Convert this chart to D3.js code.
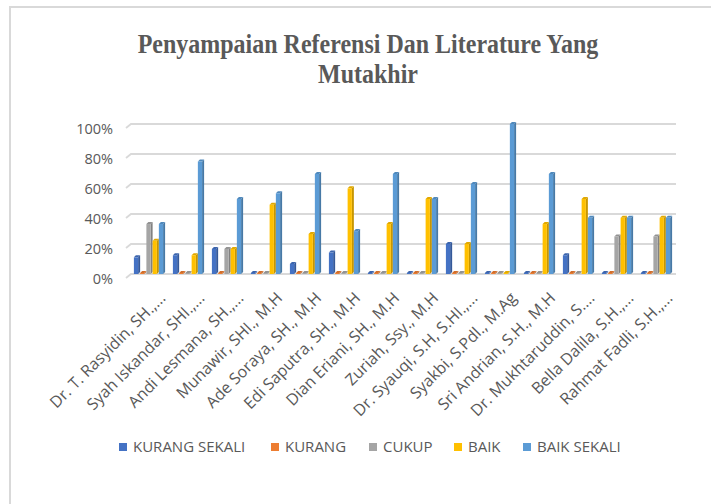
<!DOCTYPE html>
<html>
<head>
<meta charset="utf-8">
<script src="https://cdn.jsdelivr.net/npm/d3@7"></script>
<style>
  body { margin: 0; background: #fff; }
  svg { display: block; }
</style>
</head>
<body>
<svg width="711" height="504"></svg>
<script>
// data (percent)
var names = [
  "Dr. T. Rasyidin, SH.,...", "Syah Iskandar, SHI.,...", "Andi Lesmana, SH.,...",
  "Munawir, SHI., M.H", "Ade Soraya, SH., M.H", "Edi Saputra, SH., M.H",
  "Dian Eriani, SH., M.H", "Zuriah, Ssy., M.H", "Dr. Syauqi, S.H, S.HI.,...",
  "Syakbi, S.Pdl., M.Ag", "Sri Andrian, S.H., M.H", "Dr. Mukhtaruddin, S....",
  "Bella Dalila, S.H.,...", "Rahmat Fadli, S.H.,..."
];
var seriesNames = ["KURANG SEKALI", "KURANG", "CUKUP", "BAIK", "BAIK SEKALI"];
var kurangSekali = [11.1, 12.5, 16.7, 0, 6.7, 14.3, 0, 0, 20, 0, 0, 12.5, 0, 0];
var kurang       = [0, 0, 0, 0, 0, 0, 0, 0, 0, 0, 0, 0, 0, 0];
var cukup        = [33.3, 0, 16.7, 0, 0, 0, 0, 0, 0, 0, 0, 0, 25, 25];
var baik         = [22.2, 12.5, 16.7, 46.2, 26.7, 57.1, 33.3, 50, 20, 0, 33.3, 50, 37.5, 37.5];
var baikSekali   = [33.3, 75, 50, 53.8, 66.7, 28.6, 66.7, 50, 60, 100, 66.7, 37.5, 37.5, 37.5];
var yTicks = [0, 20, 40, 60, 80, 100];

var colors = ["#4472C4", "#ED7D31", "#A5A5A5", "#FFC000", "#5B9BD5"];
var allSeries = [kurangSekali, kurang, cukup, baik, baikSekali];

var svg = d3.select('svg');

// outer frame (only top and left visible)
svg.append('path')
  .attr('d', 'M10,504 L10,7 L711,7')
  .attr('fill', 'none')
  .attr('stroke', '#d9d9d9')
  .attr('stroke-width', 2);

// title
var title = svg.append('text')
  .attr('text-anchor', 'middle')
  .attr('font-family', '"Liberation Serif", "Times New Roman", serif')
  .attr('font-weight', 'bold')
  .attr('font-size', 24)
  .attr('fill', '#595959')
  .attr('transform', 'translate(368,0) scale(1,1.1)');
title.append('tspan').attr('x', 0).attr('y', 48).text('Penyampaian Referensi Dan Literature Yang');
title.append('tspan').attr('x', 0).attr('y', 75.5).text('Mutakhir');

var x0 = d3.scaleBand()
  .domain(d3.range(names.length))
  .range([130, 676])
  .paddingInner(0.2)
  .paddingOuter(0.1);

var x1 = d3.scaleBand()
  .domain(d3.range(seriesNames.length))
  .range([0, x0.bandwidth()]);

var y = d3.scaleLinear()
  .domain([0, 100])
  .range([274, 124]);

// gridlines with a small slanted wall start
var grid = svg.append('g');
yTicks.forEach(function(t) {
  grid.append('path')
    .attr('d', 'M126,' + (y(t) + 4) + ' L131,' + y(t) + ' L676,' + y(t))
    .attr('fill', 'none')
    .attr('stroke', '#d9d9d9')
    .attr('stroke-width', 1.8);
});

// y labels
svg.append('g').selectAll('text')
  .data(yTicks)
  .enter()
  .append('text')
  .attr('x', 113)
  .attr('y', function(d) { return y(d) + 10; })
  .attr('text-anchor', 'end')
  .attr('font-family', '"Open Sans", "Noto Sans", sans-serif')
  .attr('font-size', 14.5)
  .attr('fill', '#595959')
  .text(function(d) { return d + '%'; });

// 3D-ish bars
var depth = 2;
var bars = svg.append('g');
names.forEach(function(n, i) {
  allSeries.forEach(function(vals, s) {
    var v = vals[i];
    var bx = x0(i) + x1(s);
    var bw = x1.bandwidth() - depth;
    var top = v > 0 ? y(v) : y(0) - 1;
    var base = y(0);
    var c = d3.color(colors[s]);
    var g = bars.append('g');
    // side face
    g.append('path')
      .attr('d', 'M' + (bx + bw) + ',' + top + ' L' + (bx + bw + depth) + ',' + (top - depth) +
        ' L' + (bx + bw + depth) + ',' + (base - depth) + ' L' + (bx + bw) + ',' + base + 'Z')
      .attr('fill', c.darker(0.7));
    // top face
    g.append('path')
      .attr('d', 'M' + bx + ',' + top + ' L' + (bx + depth) + ',' + (top - depth) +
        ' L' + (bx + bw + depth) + ',' + (top - depth) + ' L' + (bx + bw) + ',' + top + 'Z')
      .attr('fill', c.darker(0.35));
    // front face
    g.append('rect')
      .attr('x', bx)
      .attr('y', top)
      .attr('width', bw)
      .attr('height', base - top)
      .attr('fill', colors[s]);
  });
});

// category labels, rotated
svg.append('g').selectAll('text')
  .data(names)
  .enter()
  .append('text')
  .attr('transform', function(d, i) {
    return 'translate(' + (x0(i) + x0.bandwidth() / 2 + 13) + ',295) rotate(-45)';
  })
  .attr('text-anchor', 'end')
  .attr('dy', '0.35em')
  .attr('font-family', '"Open Sans", "Noto Sans", sans-serif')
  .attr('font-size', 16)
  .attr('fill', '#595959')
  .text(function(d) { return d; });

// legend
var legendX = [133, 285, 383, 468, 537];
var legend = svg.append('g').selectAll('g')
  .data(seriesNames)
  .enter()
  .append('g')
  .attr('transform', function(d, i) { return 'translate(' + legendX[i] + ',447)'; });
legend.append('rect')
  .attr('x', -14).attr('y', -4)
  .attr('width', 8).attr('height', 8)
  .attr('fill', function(d, i) { return colors[i]; });
legend.append('text')
  .attr('dy', '0.35em')
  .attr('font-family', '"Open Sans", "Noto Sans", sans-serif')
  .attr('font-size', 15)
  .attr('fill', '#595959')
  .text(function(d) { return d; });
</script>
</body>
</html>
